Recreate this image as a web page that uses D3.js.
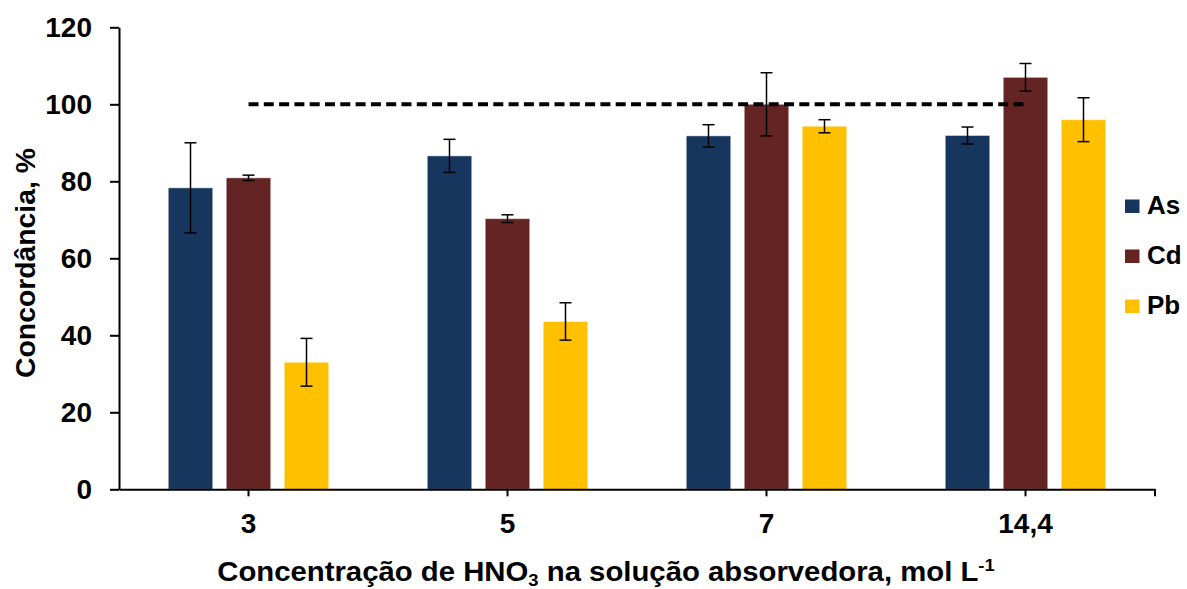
<!DOCTYPE html>
<html>
<head>
<meta charset="utf-8">
<script src="https://cdn.jsdelivr.net/npm/d3@7"></script>
<style>
  html, body { margin: 0; padding: 0; background: #fff; }
  svg { display: block; }
  text { font-family: "Liberation Sans", Arial, sans-serif; font-weight: bold; fill: #000; }
</style>
</head>
<body>
<svg id="chart" width="1187" height="589"></svg>
<script>
// HNO3 concentration groups and elements
const categories = ["3", "5", "7", "14,4"];
const series = ["As", "Cd", "Pb"];
const colors = ["#17365D", "#632423", "#FFC000"];

// Agreement (%) per element and their error margins
const asValues = [78.3, 86.6, 91.8, 91.9];
const asErrors = [11.7, 4.3, 2.9, 2.2];
const cdValues = [80.9, 70.3, 100.0, 107.0];
const cdErrors = [0.7, 1.0, 8.2, 3.6];
const pbValues = [33.0, 43.6, 94.3, 96.0];
const pbErrors = [6.2, 4.85, 1.7, 5.7];

// 100 % reference line, spanning from the first to the last group
const referenceLine = [{ cat: "3", v: 100 }, { cat: "14,4", v: 100 }];

const yTicks = [0, 20, 40, 60, 80, 100, 120];

const valuesBySeries = [asValues, cdValues, pbValues];
const errorsBySeries = [asErrors, cdErrors, pbErrors];

const rows = [];
series.forEach((s, si) => {
  categories.forEach((c, ci) => {
    rows.push({ series: s, cat: c, value: valuesBySeries[si][ci], err: errorsBySeries[si][ci], color: colors[si] });
  });
});

const svg = d3.select("#chart");
const plot = { left: 119, right: 1155, top: 27.3, bottom: 489.3 };

const x = d3.scaleBand().domain(categories).range([plot.left, plot.right]).padding(0);
const xInner = d3.scaleBand().domain(series).range([-87, 87]).paddingInner(0.233).paddingOuter(0.1165);
const y = d3.scaleLinear().domain([0, 120]).range([plot.bottom, plot.top]);

// Bars
svg.append("g").selectAll("rect").data(rows).join("rect")
  .attr("x", d => x(d.cat) + x.bandwidth() / 2 + xInner(d.series))
  .attr("width", xInner.bandwidth())
  .attr("y", d => y(d.value))
  .attr("height", d => y(0) - y(d.value))
  .attr("fill", d => d.color)
  .attr("stroke", "#ffffff")
  .attr("stroke-opacity", 0.45)
  .attr("stroke-width", 1);

// Error bars
const capHalf = 6;
const eb = svg.append("g").attr("stroke", "#000").attr("stroke-width", 1.5).attr("fill", "none");
rows.forEach(d => {
  const cx = x(d.cat) + x.bandwidth() / 2 + xInner(d.series) + xInner.bandwidth() / 2;
  const yt = y(d.value + d.err), yb = y(d.value - d.err);
  eb.append("line").attr("x1", cx).attr("x2", cx).attr("y1", yt).attr("y2", yb);
  eb.append("line").attr("x1", cx - capHalf).attr("x2", cx + capHalf).attr("y1", yt).attr("y2", yt);
  eb.append("line").attr("x1", cx - capHalf).attr("x2", cx + capHalf).attr("y1", yb).attr("y2", yb);
});

// Dashed 100 % line
const refPath = d3.line()
  .x(d => x(d.cat) + x.bandwidth() / 2)
  .y(d => y(d.v));
svg.append("path")
  .datum(referenceLine)
  .attr("d", refPath)
  .attr("fill", "none")
  .attr("stroke", "#000")
  .attr("stroke-width", 4)
  .attr("stroke-dasharray", "10,5.3");

// Y axis
const yAxis = svg.append("g")
  .attr("transform", `translate(${plot.left},0)`)
  .call(d3.axisLeft(y).tickValues(yTicks).tickSize(9).tickPadding(18).tickSizeOuter(0));
yAxis.select(".domain").attr("stroke", "#000").attr("stroke-width", 2);
yAxis.selectAll(".tick line").attr("stroke", "#000").attr("stroke-width", 2);
yAxis.selectAll(".tick text").style("font-size", "28px").style("font-family", null).attr("fill", "#000");

// X axis
const xAxis = svg.append("g")
  .attr("transform", `translate(0,${plot.bottom})`)
  .call(d3.axisBottom(x).tickSize(7).tickPadding(17).tickSizeOuter(0));
xAxis.select(".domain").attr("stroke", "#000").attr("stroke-width", 2);
xAxis.selectAll(".tick line").attr("stroke", "#000").attr("stroke-width", 2);
xAxis.selectAll(".tick text").style("font-size", "28px").style("font-family", null).attr("fill", "#000");
xAxis.append("line")
  .attr("x1", plot.right).attr("x2", plot.right)
  .attr("y1", 0).attr("y2", 7)
  .attr("stroke", "#000").attr("stroke-width", 2);

// Y axis title
const yTitle = svg.append("text")
  .attr("transform", "translate(35,263) rotate(-90)")
  .attr("text-anchor", "middle")
  .style("font-size", "27px")
  .text("Concordância, %");
const yLen = yTitle.node().getComputedTextLength();
yTitle.attr("transform", `translate(35,263) rotate(-90) scale(${230 / yLen},1)`);

// X axis title with chemical subscript and unit superscript
const xTitle = svg.append("text")
  .attr("text-anchor", "middle")
  .attr("x", 0).attr("y", 0)
  .style("font-size", "27px");
xTitle.append("tspan").text("Concentração de HNO");
xTitle.append("tspan").text("3").style("font-size", "17px").attr("dy", 5);
xTitle.append("tspan").text(" na solução absorvedora, mol L").attr("dy", -5);
xTitle.append("tspan").text("-1").style("font-size", "17px").attr("dy", -10);
const xLen = xTitle.node().getComputedTextLength();
xTitle.attr("transform", `translate(606,581) scale(${778 / xLen},1)`);

// Legend
const legend = svg.append("g").selectAll("g").data(series).join("g")
  .attr("transform", (d, i) => `translate(1125,${199.5 + i * 50})`);
legend.append("rect")
  .attr("width", 14.5).attr("height", 13.5)
  .attr("fill", (d, i) => colors[i]);
legend.append("text")
  .attr("x", 22).attr("y", 14)
  .style("font-size", "26px")
  .text(d => d);
</script>
</body>
</html>
